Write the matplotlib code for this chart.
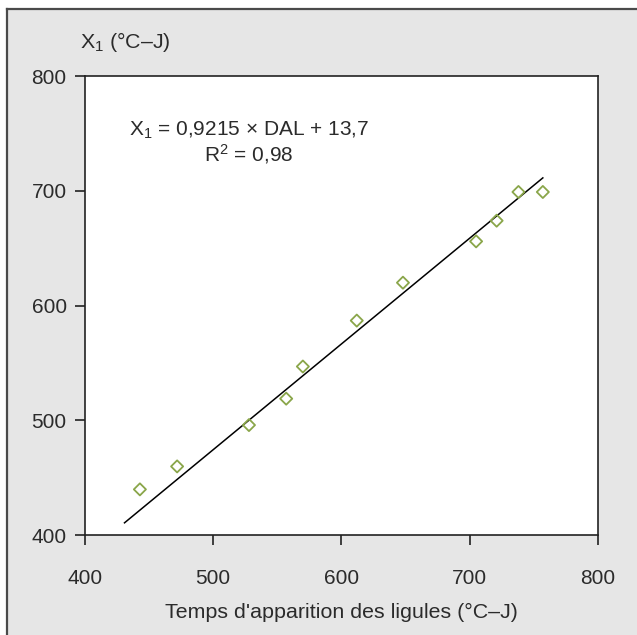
import matplotlib.pyplot as plt
from matplotlib.patches import Rectangle
from matplotlib.lines import Line2D

plt.rcParams['font.family'] = ['Liberation Sans', 'DejaVu Sans']
plt.rcParams['mathtext.fontset'] = 'custom'
plt.rcParams['mathtext.rm'] = 'Liberation Sans'
plt.rcParams['mathtext.it'] = 'Liberation Sans:italic'

# Data
dal = [443, 472, 528, 557, 570, 612, 648, 705, 721, 738, 757]
x1 = [440, 460, 496, 519, 547, 587, 620, 656, 674, 699, 699]
slope, intercept = 0.9215, 13.7
fit_x = [431, 757]
fit_y = [slope * v + intercept for v in fit_x]

text_color = '#2b2b2b'
fs = 15

fig = plt.figure(figsize=(6.37, 6.35), dpi=100, facecolor='white')
# grey panel with dark left/top edges
panel = Rectangle((7 / 637, 0), 1, 1 - 9 / 635, transform=fig.transFigure,
                  facecolor='#e6e6e6', edgecolor='none', zorder=-2)
fig.add_artist(panel)
fig.add_artist(Line2D([7 / 637, 7 / 637], [0, 1 - 9 / 635], transform=fig.transFigure,
                      color='#4a4a4a', linewidth=1.6, zorder=-1))
fig.add_artist(Line2D([7 / 637, 1], [1 - 9 / 635, 1 - 9 / 635], transform=fig.transFigure,
                      color='#4a4a4a', linewidth=1.6, zorder=-1))

ax = fig.add_axes([0.133, 0.157, 0.8058, 0.7233])
ax.set_zorder(1)
ax.set_facecolor('white')
ax.plot(fit_x, fit_y, color='black', linewidth=1.1, zorder=2)
ax.scatter(dal, x1, marker='D', s=38, facecolors='none', edgecolors='#8aa64a',
           linewidths=1.3, zorder=3)

ax.set_xlim(400, 800)
ax.set_ylim(400, 800)
ax.set_xticks([400, 500, 600, 700, 800])
ax.set_yticks([400, 500, 600, 700, 800])
for s in ax.spines.values():
    s.set_linewidth(1.2)
    s.set_color('#222222')
ax.tick_params(direction='out', length=7, width=1.2, colors='#222222',
               labelsize=fs, labelcolor=text_color, pad=6)
ax.tick_params(axis='x', pad=17)

ax.set_xlabel("Temps d'apparition des ligules (°C–J)", fontsize=15.4,
              color=text_color, labelpad=11)
fig.text(80 / 637, 1 - 42 / 635, 'X$_1$ (°C–J)', fontsize=15.4, color=text_color,
         va='center', ha='left', zorder=2)

ax.text(528, 742, 'X$_1$ = 0,9215 × DAL + 13,7\nR$^2$ = 0,98', fontsize=fs,
        color=text_color, ha='center', va='center', linespacing=1.08)

fig.savefig('out.png', dpi=100, facecolor=fig.get_facecolor())
